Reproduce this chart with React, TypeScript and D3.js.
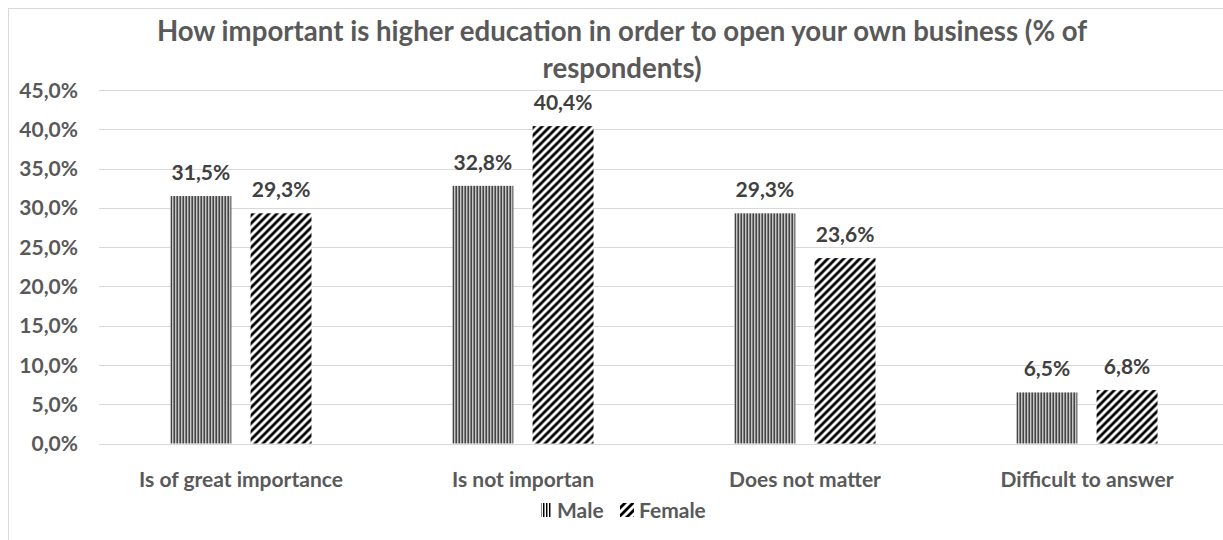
import React from "react";
import * as d3 from "d3";

const categories = ["Is of great importance", "Is not importan", "Does not matter", "Difficult to answer"];
const series = ["Male", "Female"];
const maleValues = [31.5, 32.8, 29.3, 6.5];
const femaleValues = [29.3, 40.4, 23.6, 6.8];
const yTicks = [0, 5, 10, 15, 20, 25, 30, 35, 40, 45];
const titleLines = [
  "How important is higher education in order to open your own business (% of",
  "respondents)",
];

const W = 1223;
const H = 540;
const FONT = "Lato, 'Open Sans', sans-serif";
const TEXT = "#595959";
const LABEL = "#404040";
const FS = 21;

const fmt = (v: number) => v.toFixed(1).replace(".", ",") + "%";

export default function App() {
  const plotLeft = 100;
  const plotRight = 1228;
  const y = d3.scaleLinear().domain([0, 45]).range([443.5, 90]);
  const x0 = d3.scaleBand<string>().domain(categories).range([plotLeft, plotRight]).paddingInner(0).paddingOuter(0);
  const groupW = x0.bandwidth() * 0.5;
  const x1 = d3.scaleBand<string>().domain(series).range([0, groupW]).paddingInner(0.24);
  const valuesBy: Record<string, number[]> = { Male: maleValues, Female: femaleValues };

  return (
    <svg
      width={W}
      height={H}
      style={{ position: "absolute", left: 0, top: 0, background: "#fff" }}
      fontFamily={FONT}
    >
      <defs>
        <pattern id="pMale" patternUnits="userSpaceOnUse" width={3} height={4}>
          <rect width={3} height={4} fill="#ffffff" />
          <rect x={0} width={1} height={4} fill="#000000" />
          <rect x={1} width={1} height={4} fill="#8a8a8a" />
        </pattern>
        <pattern id="pFemale" patternUnits="userSpaceOnUse" width={8} height={8}>
          <rect width={8} height={8} fill="#ffffff" />
          <path d="M-2,2 L2,-2 M0,8 L8,0 M6,10 L10,6" stroke="#000" strokeWidth={2.8} />
        </pattern>
      </defs>
      <rect x={0} y={0} width={W} height={H} fill="#fff" />
      {/* chart border */}
      <rect x={8.5} y={8.5} width={W + 20} height={H + 20} fill="none" stroke="#d9d9d9" strokeWidth={1} />

      {/* title */}
      {titleLines.map((t, i) => (
        <text
          key={i}
          x={622}
          y={41 + i * 37}
          textAnchor="middle"
          fontSize={27.6}
          fontWeight="bold"
          fill={TEXT}
        >
          {t}
        </text>
      ))}

      {/* gridlines & y ticks */}
      {yTicks.map((t) => (
        <g key={t}>
          <line x1={plotLeft - 1} x2={W} y1={Math.round(y(t)) + 0.5} y2={Math.round(y(t)) + 0.5} stroke="#d9d9d9" strokeWidth={1} />
          <text x={78} y={y(t)} dy="0.36em" textAnchor="end" fontSize={FS} fontWeight="bold" fill={TEXT}>
            {fmt(t)}
          </text>
        </g>
      ))}

      {/* bars */}
      {categories.map((c, ci) => {
        const gx = (x0(c) as number) + (x0.bandwidth() - groupW) / 2;
        return (
          <g key={c} transform={`translate(${gx},0)`}>
            {series.map((s) => {
              const v = valuesBy[s][ci];
              const bx = x1(s) as number;
              return (
                <g key={s}>
                  <rect
                    x={bx}
                    y={y(v)}
                    width={x1.bandwidth()}
                    height={y(0) - y(v)}
                    fill={s === "Male" ? "url(#pMale)" : "url(#pFemale)"}
                  />
                  <text
                    x={bx + x1.bandwidth() / 2}
                    y={y(v) - 16}
                    textAnchor="middle"
                    fontSize={FS}
                    fontWeight="bold"
                    fill={LABEL}
                  >
                    {fmt(v)}
                  </text>
                </g>
              );
            })}
          </g>
        );
      })}

      {/* category labels */}
      {categories.map((c) => (
        <text
          key={c}
          x={(x0(c) as number) + x0.bandwidth() / 2}
          y={487}
          textAnchor="middle"
          fontSize={FS}
          fontWeight="bold"
          fill={TEXT}
        >
          {c}
        </text>
      ))}

      {/* legend */}
      <rect x={541} y={503} width={10} height={14} fill="url(#pMale)" />
      <text x={557} y={518} fontSize={FS} fontWeight="bold" fill={TEXT}>
        {series[0]}
      </text>
      <rect x={620} y={503} width={14} height={14} fill="url(#pFemale)" />
      <text x={639} y={518} fontSize={FS} fontWeight="bold" fill={TEXT}>
        {series[1]}
      </text>
    </svg>
  );
}
